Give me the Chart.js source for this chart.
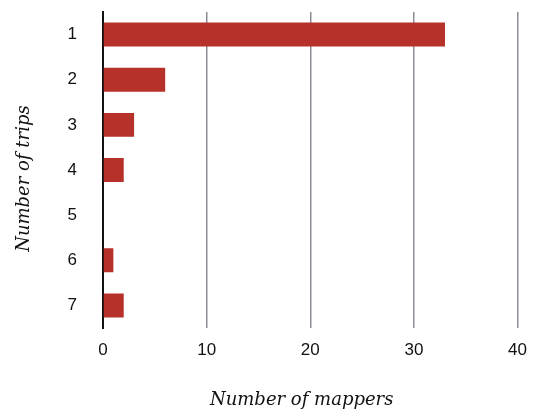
<!DOCTYPE html>
<html>
<head>
<meta charset="utf-8">
<script src="https://cdn.jsdelivr.net/npm/chart.js@4/dist/chart.umd.min.js"></script>
<style>
html,body{margin:0;padding:0;background:#fff;}
#wrap{width:539px;height:411px;position:relative;}
</style>
</head>
<body>
<div id="wrap"><canvas id="c"></canvas></div>
<script>
const categories = ['1','2','3','4','5','6','7'];
const mappers = [33, 6, 3, 2, 0, 1, 2];
const xTicks = [0, 10, 20, 30, 40];

new Chart(document.getElementById('c'), {
  type: 'bar',
  data: {
    labels: categories,
    datasets: [{
      data: mappers,
      backgroundColor: '#b5312a',
      borderWidth: 0,
      barPercentage: 0.53,
      categoryPercentage: 1.0
    }]
  },
  options: {
    indexAxis: 'y',
    responsive: true,
    maintainAspectRatio: false,
    animation: false,
    layout: { padding: { top: 12, right: 21, left: 0, bottom: 0 } },
    plugins: { legend: { display: false }, tooltip: { enabled: false } },
    scales: {
      x: {
        min: 0, max: 40,
        afterBuildTicks: s => { s.ticks = xTicks.map(v => ({ value: v })); },
        afterFit: s => { s.height = 83; },
        grid: { color: '#8c8c99', lineWidth: 1.5, drawTicks: false },
        border: { display: false },
        ticks: { color: '#111', font: { family: 'Liberation Sans', size: 17 }, padding: 12 },
        title: {
          display: true, text: 'Number of mappers   ', color: '#111',
          font: { family: 'DejaVu Serif', style: 'italic', size: 18 },
          padding: { top: 16, bottom: 0 }
        }
      },
      y: {
        afterFit: s => { s.width = 103; s.paddingTop = 0; s.paddingBottom = 0; },
        grid: { display: false, drawTicks: false },
        border: { display: true, color: '#111', width: 2 },
        ticks: { color: '#111', font: { family: 'Liberation Sans', size: 17 }, padding: 26 },
        title: {
          display: true, text: 'Number of trips   ', color: '#111',
          font: { family: 'DejaVu Serif', style: 'italic', size: 18 },
          padding: { top: 14, bottom: 0 }
        }
      }
    }
  }
});
</script>
</body>
</html>
